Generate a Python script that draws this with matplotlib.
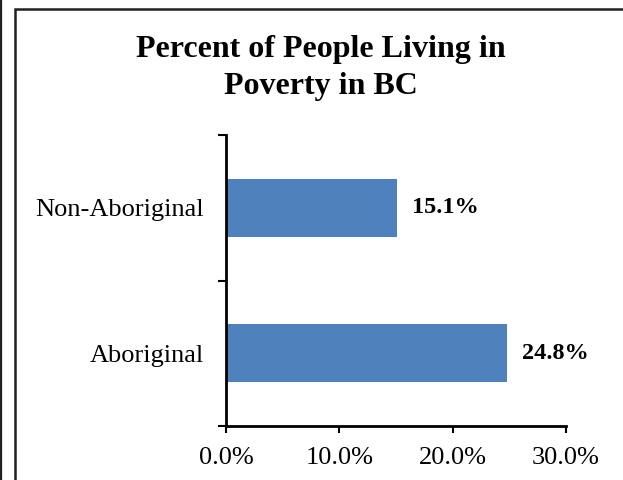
import matplotlib.pyplot as plt
from matplotlib.patches import Rectangle
from matplotlib.lines import Line2D
from matplotlib.ticker import FuncFormatter

# poverty rates in BC
groups = ["Aboriginal", "Non-Aboriginal"]
rates = [24.8, 15.1]
xticks = [0, 10, 20, 30]

plt.rcParams['font.family'] = ['Liberation Serif', 'DejaVu Serif']

fig = plt.figure(figsize=(6.23, 4.8), dpi=100)

# chart frame and page edge
fig.add_artist(Line2D([0.0015, 0.0015], [0, 1], transform=fig.transFigure,
                      color='#202020', lw=1.6))
fig.add_artist(Rectangle((15 / 623, -0.1), 1.2, 1 - 8.5 / 480 + 0.1,
                         transform=fig.transFigure, fill=False,
                         edgecolor='#202020', lw=1.8))

ax = fig.add_axes([226 / 623, 1 - 426 / 480, 340 / 623, 291 / 480])
ypos = range(len(groups))
ax.barh(ypos, rates, height=0.4, color='#4F81BD')

for y, v in zip(ypos, rates):
    ax.text(v + 1.3, y, f"{v:.1f}%", va='center', ha='left',
            fontsize=17.5, fontweight='bold')

ax.set_xlim(0, 30)
ax.set_ylim(-0.5, 1.5)
ax.set_xticks(xticks)
ax.xaxis.set_major_formatter(FuncFormatter(lambda v, p: f"{v:.1f}%"))
ax.set_yticks([-0.5, 0.5, 1.5])
ax.set_yticklabels([])
ax.set_yticks(list(ypos), minor=True)
ax.set_yticklabels(groups, minor=True)
ax.tick_params(axis='y', which='minor', length=0, pad=16, labelsize=19)
ax.tick_params(axis='y', which='major', length=6, width=1.5, direction='out')
ax.tick_params(axis='x', length=5, width=1.5, direction='out', labelsize=19, pad=10)

for s in ['top', 'right']:
    ax.spines[s].set_visible(False)
for s in ['left', 'bottom']:
    ax.spines[s].set_linewidth(2)

fig.text(321 / 623, 1 - 68 / 480, "Percent of People Living in\nPoverty in BC",
         ha='center', va='center', fontsize=23, fontweight='bold',
         linespacing=1.32)

fig.savefig("out.png", dpi=100)
